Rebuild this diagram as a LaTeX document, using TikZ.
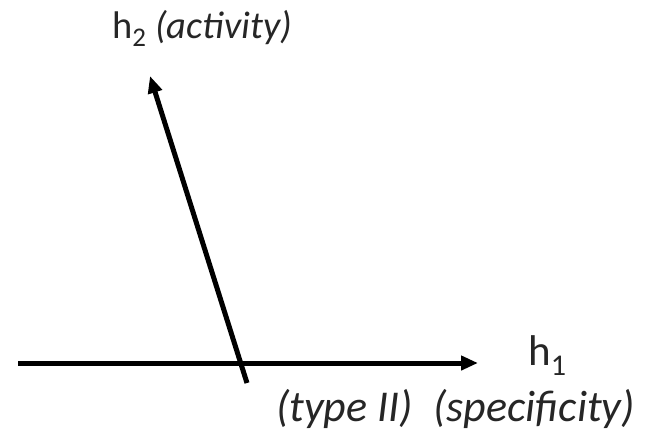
\documentclass[tikz,border=0pt]{standalone}
\usepackage{fontspec}
\setmainfont{Carlito}
\usetikzlibrary{arrows.meta}
\tikzset{
  axis/.style={line width=5pt, -{Triangle[length=17pt,width=14pt]}},
  lbl/.style={inner sep=0pt, anchor=base west, text=black!85},
}
\begin{document}
\begin{tikzpicture}[x=1pt,y=-1pt]
\useasboundingbox (0,0) rectangle (650,437);
\coordinate (hs) at (18,363);
\coordinate (he) at (478,363);
\coordinate (ds) at (247,383);
\coordinate (de) at (150,76);
\draw[axis] (hs) -- (he);
\draw[axis] (ds) -- (de);
\node[lbl, font=\fontsize{38.5}{42}\selectfont] (h2) at (112,38) {h\textsubscript{2} \textit{(activity)}};
\node[lbl, font=\fontsize{43}{48}\selectfont] (h1) at (528,365) {h\textsubscript{1}};
\node[lbl, font=\fontsize{44}{50}\selectfont] (t) at (276,421) {\textit{(type II)}\hspace{20pt}\textit{(specificity)}};
\end{tikzpicture}
\end{document}
